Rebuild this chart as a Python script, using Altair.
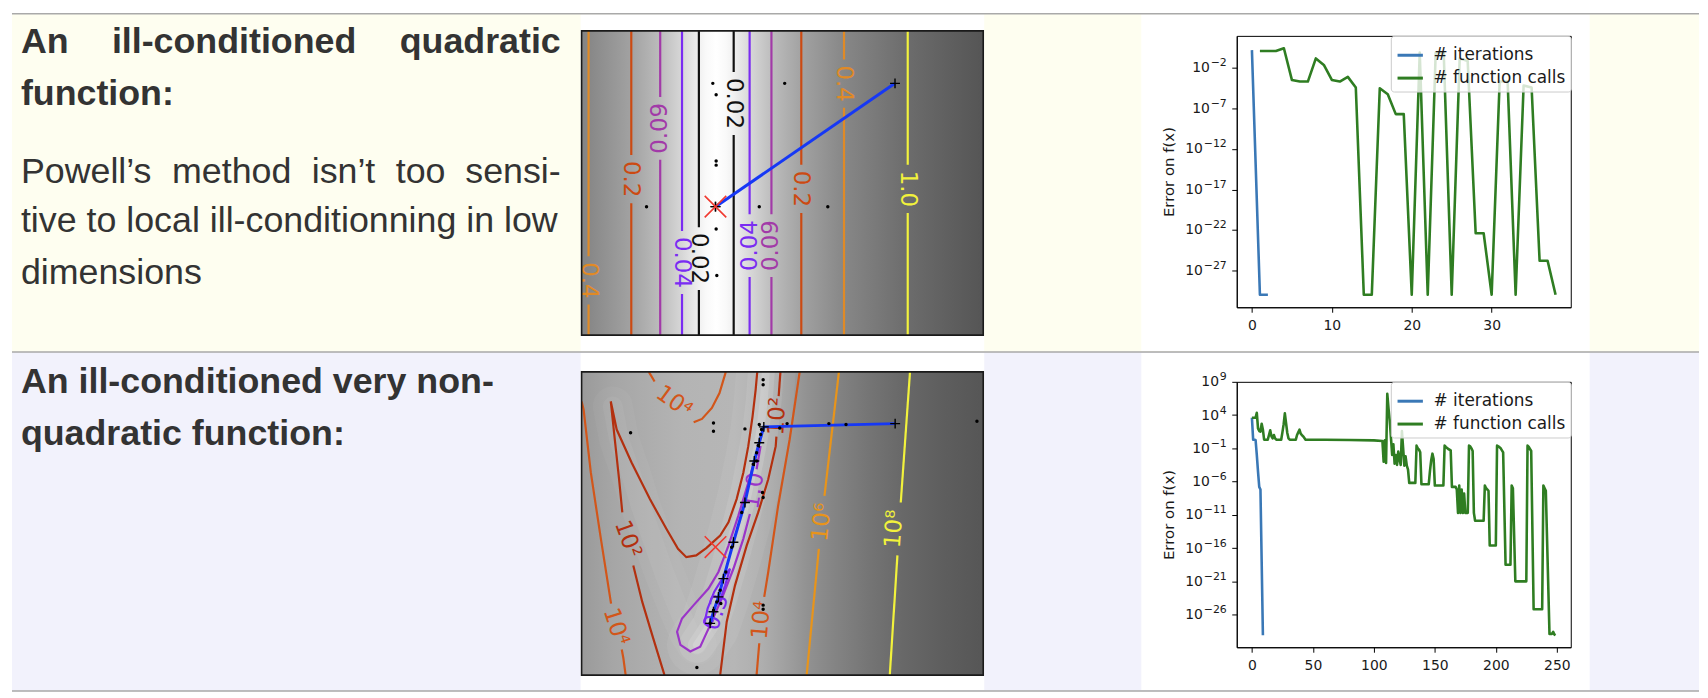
import altair as alt
import pandas as pd

TEXT_FONT = "Liberation Sans"
MPL_FONT = "DejaVu Sans"
INK = "#333333"
YELLOW = "#fefef0"
LAVENDER = "#f2f2fc"
RULE = "#a9a9a9"
BLUE = "#3a78b6"
GREEN = "#2f7d22"
PATH_BLUE = "#1638f5"
AXIS_INK = "#1a1a1a"

# ====================== DATA ======================
# --- table text ---
row1_title = ["An", "ill-conditioned", "quadratic", "function:"]
row1_body = ["Powell\u2019s", "method", "isn\u2019t", "too", "sensi-",
             "tive to local ill-conditionning in low", "dimensions"]
row2_title = ["An ill-conditioned very non-", "quadratic function:"]

# --- error curves: ill-conditioned quadratic ---
quad_iter_step = [0, 1, 2]
quad_iter_log10err = [0.2, -30.0, -30.0]
quad_calls_step = list(range(1, 39))
quad_calls_log10err = [0.09, 0.09, 0.09, 0.43, -3.48, -3.68, -3.68, -0.82, -1.63, -3.48,
                       -3.68, -3.1, -4.42, -30.0, -30.0, -4.5, -5.24, -7.7, -7.7, -30.0,
                       -0.1, -30.0, -0.1, -0.1, -30.0, -0.82, -1.14, -22.4, -22.4, -30.0,
                       -3.68, -3.68, -30.0, -4.17, -4.42, -25.8, -25.8, -30.0]

# --- error curves: ill-conditioned very non-quadratic ---
ros_iter_step = list(range(10))
ros_iter_log10err = [3.6, 0.3, 0.3, 0.25, -2.0, -4.5, -6.8, -7.2, -18.1, -29.1]
ros_calls_step = [0, 3, 4, 5, 6, 7, 8, 9, 10, 13, 14, 15, 16, 17, 18, 19, 20, 24, 25, 26,
                  27, 28, 29, 30, 31, 36, 37, 38, 39, 40, 41, 42, 44, 60, 80, 100, 107,
                  108, 109, 110, 111, 112, 113, 114, 115, 116, 117, 118, 119, 120, 121, 122, 123,
                  124, 125, 126, 127, 128, 129, 134, 135, 136, 137, 138, 139, 145, 146, 147, 148,
                  149, 150, 157, 158, 159, 161, 163, 164, 167, 168, 169, 170, 171, 172, 173, 174,
                  175, 177, 178, 179, 180, 181, 182, 183, 190, 191, 192, 194, 195, 200, 201, 202,
                  204, 206, 208, 212, 213, 214, 216, 225, 226, 227, 229, 231, 238, 239, 240, 241,
                  244, 246, 247, 248, 249]
ros_calls_log10err = [3.6, 3.6, 4.35, 2.0, 1.6, 1.5, 2.7, 1.8, 0.3, 0.3, 1.0, 1.7, 0.8, 0.5, 1.0, 0.5,
                      0.3, 0.3, 1.4, 2.6, 4.25, 2.8, 1.3, 0.5, 0.3, 0.3, 1.0, 1.4, 1.8, 1.2, 1.0, 0.8,
                      0.3, 0.3, 0.25, 0.2, 0.1,
                      -3.0, 0.2, -3.2, 7.2, 5.0, 3.2, 0.6, -2.0, -0.4, -3.3, -2.0, -3.5, -1.5, -2.6,
                      -3.5, 1.6, -1.0, -3.6, -2.2, -3.6, -4.2, -6.2, -6.2, -0.6, -1.0, -1.2, -1.6,
                      -6.4, -6.4, -4.4, -2.8, -1.8, -2.6, -6.6, -6.6, -0.6, -0.8, -1.1, -1.3, -6.8,
                      -6.8, -7.2, -10.7, -6.6, -10.7, -7.2, -10.7, -7.8, -10.7, -10.7, -0.6, -0.7,
                      -1.0, -1.4, -10.7, -11.9, -11.9, -6.6, -7.0, -7.4, -15.6, -15.6, -0.6, -0.7,
                      -1.0, -1.6, -18.5, -18.5, -6.6, -7.0, -21.0, -21.0, -0.6, -0.8, -1.4, -25.2,
                      -25.2, -6.6, -7.0, -7.4, -28.9, -28.9, -28.6, -29.0, -29.1]
assert len(ros_calls_step) == len(ros_calls_log10err)
assert len(quad_calls_step) == len(quad_calls_log10err)

# --- contour picture 1 (quadratic): vertical iso-lines ---
quad_level_x = [-0.948, -0.629, -0.413, -0.25, -0.124, 0.136, 0.255, 0.418, 0.641, 0.960, 1.436]
quad_level_text = ["0.4", "0.2", "0.09", "0.04", "0.02", "0.02", "0.04", "0.09", "0.2", "0.4", "1.0"]
quad_label_y = [-0.546, 0.204, 0.579, -0.413, -0.384, 0.763, -0.288, -0.288, 0.131, 0.910, 0.131]
quad_label_angle = [90, 90, 270, 90, 90, 90, 270, 270, 90, 90, 90]
quad_path_x = [1.341, 0.0, 0.0]
quad_path_y = [0.912, 0.0, 0.0]
quad_dots_x = [-0.02, 0.005, 0.517, 0.005, 0.005, -0.515, 0.327, 0.839, 0.005, 0.01]
quad_dots_y = [0.912, 0.827, 0.912, 0.337, 0.307, 0.0, 0.0, 0.0, -0.165, -0.509]
quad_min = (0.0, 0.0)

# --- contour picture 2 (very non-quadratic): traced iso-lines ---
ros_c1e8 = [[(1.453, 1.3), (1.384, 0.331)], [(1.359, -0.062), (1.302, -0.95)]]
ros_c1e6 = [[(0.922, 1.3), (0.814, 0.380)], [(0.772, -0.013), (0.681, -0.95)]]
ros_c1e4_right = [[(0.629, 1.3), (0.554, 0.798), (0.468, 0.307), (0.394, -0.185), (0.364, -0.370)],
                  [(0.327, -0.714), (0.307, -0.95)]]
ros_c1e4_left = [[(-1.0, 1.08), (-0.985, 1.020), (-0.931, 0.552), (-0.856, 0.061), (-0.78, -0.42)],
                 [(-0.70, -0.76), (-0.688, -0.825), (-0.671, -0.95)]]
ros_c1e4_top = [[(-0.498, 1.3), (-0.455, 1.229)],
                [(-0.163, 0.926), (-0.101, 0.951), (-0.027, 1.032), (0.030, 1.143), (0.077, 1.3)]]
ros_c1e2_right = [[(0.485, 1.3), (0.472, 1.12)],
                  [(0.455, 0.82), (0.450, 0.749), (0.394, 0.503), (0.319, 0.257), (0.233, 0.011),
                   (0.146, -0.284), (0.084, -0.554), (0.035, -0.95)]]
ros_c1e2_left = [[(-0.696, 0.257), (-0.720, 0.503), (-0.752, 0.798), (-0.782, 1.081), (-0.738, 0.872),
                  (-0.626, 0.626), (-0.490, 0.356), (-0.366, 0.134), (-0.280, -0.013), (-0.218, -0.075),
                  (-0.144, -0.062), (-0.069, -0.008), (0.035, 0.085), (0.097, 0.184), (0.158, 0.356),
                  (0.208, 0.552), (0.245, 0.749), (0.277, 0.970), (0.300, 1.167), (0.312, 1.3)],
                 [(-0.614, -0.136), (-0.547, -0.407), (-0.473, -0.652), (-0.381, -0.95)]]
ros_c1p0 = [[(0.307, 0.577), (0.337, 0.749), (0.302, 0.675), (0.245, 0.479), (0.171, 0.233),
             (0.097, 0.011), (0.022, -0.185), (-0.052, -0.308), (-0.163, -0.431), (-0.250, -0.530),
             (-0.287, -0.628), (-0.262, -0.726), (-0.188, -0.775), (-0.114, -0.739), (-0.040, -0.579),
             (0.047, -0.382), (0.134, -0.161), (0.208, 0.061), (0.257, 0.245)]]
ros_c0p3 = [[(-0.015, -0.542), (-0.052, -0.584), (-0.082, -0.559), (-0.059, -0.456), (-0.010, -0.333),
             (0.059, -0.222), (0.109, -0.161), (0.072, -0.284), (0.022, -0.431)]]
ros_label_text = ["10\u2078", "10\u2076", "10\u2074", "10\u00b2", "10\u2074", "10\u2074", "10\u00b2", "1.0", "0.3"]
ros_label_x = [1.334, 0.795, 0.344, 0.462, -0.742, -0.309, -0.655, 0.287, 0.005]
ros_label_y = [0.134, 0.184, -0.542, 0.970, -0.591, 1.078, 0.060, 0.417, -0.485]
ros_label_angle = [274, 276, 275, 273, 72, 36, 70, 279, 288]
ros_valley_left = [(-0.767, 1.044), (-0.720, 0.798), (-0.634, 0.552), (-0.559, 0.307), (-0.473, 0.061),
                   (-0.386, -0.185), (-0.287, -0.431), (-0.200, -0.628), (-0.139, -0.726)]
ros_valley_right = [(-0.139, -0.726), (-0.040, -0.579), (0.035, -0.357), (0.109, -0.111), (0.183, 0.159),
                    (0.245, 0.405), (0.295, 0.651), (0.332, 0.848), (0.361, 1.093), (0.376, 1.3)]
ros_path_x = [1.342, 0.361, 0.327, 0.290, 0.220, 0.134, 0.059, 0.022, -0.015, -0.040]
ros_path_y = [0.916, 0.892, 0.774, 0.639, 0.331, 0.036, -0.234, -0.370, -0.480, -0.566]
ros_dots_x = [0.356, 0.356, -0.015, -0.015, -0.634, 0.220, 0.327, 0.344, 0.337, 0.480, 0.535, 0.847,
              0.975, 1.953, 0.319, 0.307, 0.282, 0.307, 0.351, 0.356, 0.196, 0.121, 0.077, 0.035,
              0.010, 0.040, -0.015, -0.040, 0.356, 0.356, -0.139]
ros_dots_y = [1.241, 1.204, 0.921, 0.860, 0.848, 0.877, 0.909, 0.872, 0.835, 0.884, 0.916, 0.916,
              0.909, 0.934, 0.754, 0.700, 0.614, 0.639, 0.405, 0.368, 0.257, -0.001, -0.185, -0.320,
              -0.407, -0.419, -0.468, -0.566, -0.431, -0.461, -0.893]
ros_min = (0.0, 0.0)

# ====================== STYLE ======================
QUAD_COLORS = {"0.02": "#111111", "0.04": "#7a2cf2", "0.09": "#a23aa8", "0.2": "#cc4a12",
               "0.4": "#e08a26", "1.0": "#f2f23c"}
ROS_COLORS = {"1e8": "#f2f23c", "1e6": "#e8941a", "1e4": "#d2561a", "1e2": "#b3300f",
              "1.0": "#9b35c8", "0.3": "#7a2cf0"}
QUAD_BG = [(0.0, 0x84), (0.017, 0x87), (0.124, 0xa2), (0.196, 0xbc), (0.25, 0xd7), (0.292, 0xf0),
           (0.31, 0xf9), (0.335, 0xff), (0.36, 0xf9), (0.379, 0xf0), (0.418, 0xd8), (0.473, 0xbd),
           (0.547, 0xa2), (0.653, 0x87), (0.812, 0x6c), (1.0, 0x55)]
ROS_BG = [(0.0, 0x9a), (0.08, 0xa6), (0.25, 0xb4), (0.38, 0xb6), (0.45, 0xae), (0.5, 0xa2),
          (0.56, 0x92), (0.63, 0x84), (0.72, 0x74), (0.8, 0x68), (0.9, 0x5e), (1.0, 0x56)]


def gray(v):
    return "#%02x%02x%02x" % (v, v, v)


XS = alt.Scale(domain=[-1, 2], nice=False, zero=False)
YS = alt.Scale(domain=[-0.95, 1.3], nice=False, zero=False)


def cx(f):
    return alt.X(f, type="quantitative", scale=XS, axis=None)


def cy(f):
    return alt.Y(f, type="quantitative", scale=YS, axis=None)


def seg_frame(segs):
    rows = []
    for k, (color, pts) in enumerate(segs):
        for i, (x, y) in enumerate(pts):
            rows.append({"seg": k, "i": i, "x": x, "y": y, "color": color})
    return pd.DataFrame(rows)


def pts_frame(pts):
    return pd.DataFrame({"i": list(range(len(pts))), "x": [p[0] for p in pts], "y": [p[1] for p in pts]})


def contour_panel(stops, glows, segs_df, labels_df, path_df, dots_df, xmin, w, h):
    ext = pd.DataFrame({"x0": [-1.0], "x1": [2.0], "y0": [-0.95], "y1": [1.3]})
    grad = {"gradient": "linear", "x1": 0, "y1": 0, "x2": 1, "y2": 0,
            "stops": [{"offset": o, "color": gray(c)} for o, c in stops]}
    layers = [alt.Chart(ext).mark_rect(fill=grad, strokeWidth=0).encode(
        x=cx("x0"), x2="x1", y=cy("y0"), y2="y1")]
    for df, sw, op in glows:
        layers.append(alt.Chart(df).mark_line(color="white", strokeWidth=sw, opacity=op, strokeCap="round",
                                              strokeJoin="round", clip=True).encode(
            x=cx("x"), y=cy("y"), order="i:Q"))
    layers.append(alt.Chart(segs_df).mark_line(strokeWidth=2.2, clip=True).encode(
        x=cx("x"), y=cy("y"), detail="seg:N", order="i:Q", color=alt.Color("color:N", scale=None)))
    layers.append(alt.Chart(labels_df).mark_text(font=MPL_FONT, fontSize=23, align="center",
                                                 baseline="middle").encode(
        x=cx("x"), y=cy("y"), text="text:N", angle=alt.Angle("angle:Q", scale=None),
        color=alt.Color("color:N", scale=None)))
    layers.append(alt.Chart(path_df).mark_line(color=PATH_BLUE, strokeWidth=3, clip=True).encode(
        x=cx("x"), y=cy("y"), order="i:Q"))
    layers.append(alt.Chart(path_df).mark_point(shape="M-1,0L1,0M0,-1L0,1", size=100, filled=False,
                                                color="black", strokeWidth=1.4, opacity=1).encode(
        x=cx("x"), y=cy("y")))
    layers.append(alt.Chart(dots_df).mark_circle(size=12, color="black", opacity=1).encode(
        x=cx("x"), y=cy("y")))
    mn = pd.DataFrame({"x": [xmin[0]], "y": [xmin[1]]})
    layers.append(alt.Chart(mn).mark_point(shape="M-1,-1L1,1M-1,1L1,-1", size=470, filled=False,
                                           color="#f03a30", strokeWidth=1.6, opacity=1).encode(
        x=cx("x"), y=cy("y")))
    layers.append(alt.Chart(ext).mark_rect(filled=False, stroke="#1a1a1a", strokeWidth=1.6).encode(
        x=cx("x0"), x2="x1", y=cy("y0"), y2="y1"))
    return alt.layer(*layers).properties(width=w, height=h)


def text_len_px(t, fs=23):
    w = 0.0
    for ch in t:
        w += 0.318 if ch == "." else 0.636
    return w * fs


q_segs = []
for x, t, ly in zip(quad_level_x, quad_level_text, quad_label_y):
    hg = (text_len_px(t) / 2 + 6) / 136.0
    c = QUAD_COLORS[t]
    q_segs.append((c, [(x, 1.3), (x, ly + hg)]))
    q_segs.append((c, [(x, ly - hg), (x, -0.95)]))
q_labels = pd.DataFrame({"x": quad_level_x, "y": quad_label_y, "text": quad_level_text,
                         "angle": quad_label_angle, "color": [QUAD_COLORS[t] for t in quad_level_text]})
q_path = pd.DataFrame({"i": [0, 1, 2], "x": quad_path_x, "y": quad_path_y})
q_dots = pd.DataFrame({"x": quad_dots_x, "y": quad_dots_y})
contour1 = contour_panel(QUAD_BG, [], seg_frame(q_segs), q_labels, q_path, q_dots, quad_min, 404, 306)

r_segs = []
for key, segs in [("1e8", ros_c1e8), ("1e6", ros_c1e6), ("1e4", ros_c1e4_right), ("1e4", ros_c1e4_left),
                  ("1e4", ros_c1e4_top), ("1e2", ros_c1e2_right), ("1e2", ros_c1e2_left),
                  ("1.0", ros_c1p0), ("0.3", ros_c0p3)]:
    for s in segs:
        r_segs.append((ROS_COLORS[key], s))
r_label_keys = ["1e8", "1e6", "1e4", "1e2", "1e4", "1e4", "1e2", "1.0", "0.3"]
r_labels = pd.DataFrame({"x": ros_label_x, "y": ros_label_y, "text": ros_label_text,
                         "angle": ros_label_angle, "color": [ROS_COLORS[k] for k in r_label_keys]})
r_path = pd.DataFrame({"i": list(range(len(ros_path_x))), "x": ros_path_x, "y": ros_path_y})
r_dots = pd.DataFrame({"x": ros_dots_x, "y": ros_dots_y})
vl = pts_frame(ros_valley_left)
vr = pts_frame(ros_valley_right)
glows = [(vl, 40, 0.04), (vl, 20, 0.05),
         (vr, 60, 0.06), (vr, 36, 0.09), (vr, 18, 0.13), (vr, 8, 0.15)]
contour2 = contour_panel(ROS_BG, glows, seg_frame(r_segs), r_labels, r_path, r_dots, ros_min, 404, 305)


# ---- error charts ----
SUP_FS = 11
BASE_FS = 14
LABEL_RIGHT = -10


def exp_text(v):
    return ("\u2212" if v < 0 else "") + str(abs(v))


def exp_width(v):
    return (0.838 * SUP_FS if v < 0 else 0.0) + 0.636 * SUP_FS * len(str(abs(v)))


def error_chart(it_x, it_e, fc_x, fc_e, xdom, ydom, xticks, yticks, w, h):
    df = pd.DataFrame({
        "step": list(it_x) + list(fc_x),
        "err": [10.0 ** v for v in it_e] + [10.0 ** v for v in fc_e],
        "series": ["# iterations"] * len(it_x) + ["# function calls"] * len(fc_x),
    })
    common = dict(domainColor="#000000", domainWidth=1, tickColor="#000000", tickWidth=1, tickSize=5,
                  labelFont=MPL_FONT, labelFontSize=BASE_FS, labelColor=AXIS_INK, grid=False,
                  labelFlush=False)
    yscale = alt.Scale(type="log", domain=[10.0 ** ydom[0], 10.0 ** ydom[1]], nice=False)
    lines = alt.Chart(df).mark_line(strokeWidth=2.6, clip=True, strokeJoin="round").encode(
        x=alt.X("step:Q", scale=alt.Scale(domain=xdom, nice=False, zero=False),
                axis=alt.Axis(values=xticks, labelPadding=6, title=None, **common)),
        y=alt.Y("err:Q", scale=yscale,
                axis=alt.Axis(values=[10.0 ** v for v in yticks], labels=False,
                              title="Error on f(x)", titleFont=MPL_FONT, titleFontSize=15,
                              titleFontWeight="normal", titleColor=AXIS_INK, titlePadding=55, **common)),
        color=alt.Color("series:N",
                        scale=alt.Scale(domain=["# iterations", "# function calls"], range=[BLUE, GREEN]),
                        legend=alt.Legend(orient="top-right", offset=0, title=None,
                                          fillColor="rgba(255,255,255,0.8)", strokeColor="#cccccc",
                                          cornerRadius=3, padding=5, labelFont=MPL_FONT, labelFontSize=17,
                                          labelColor=AXIS_INK, symbolType="stroke", symbolStrokeWidth=3,
                                          symbolSize=650, rowPadding=0, labelOffset=9, labelLimit=400)),
    )
    # y tick labels "10" with a superscript exponent, placed through the y scale
    ticks = pd.DataFrame({"err": [10.0 ** v for v in yticks],
                          "exp": [exp_text(v) for v in yticks],
                          "w": [round(exp_width(v), 1) for v in yticks]})
    layers = [lines,
              alt.Chart(ticks).mark_text(font=MPL_FONT, fontSize=SUP_FS, align="right", baseline="middle",
                                         dy=-4.5, color=AXIS_INK).encode(
                  x=alt.value(LABEL_RIGHT), y=alt.Y("err:Q", scale=yscale), text="exp:N")]
    for wv in sorted(set(ticks["w"])):
        sub = ticks[ticks["w"] == wv]
        layers.append(alt.Chart(sub).mark_text(font=MPL_FONT, fontSize=BASE_FS, align="right",
                                               baseline="middle", dy=0.5, color=AXIS_INK).encode(
            x=alt.value(LABEL_RIGHT - wv - 0.8), y=alt.Y("err:Q", scale=yscale), text=alt.value("10")))
    return alt.layer(*layers).properties(width=w, height=h,
                                         view=alt.ViewBackground(fill="white", stroke="#000000", strokeWidth=1))


err1 = error_chart(quad_iter_step, quad_iter_log10err, quad_calls_step, quad_calls_log10err,
                   [-1.9, 39.9], [-31.54, 1.96], [0, 10, 20, 30], [-27, -22, -17, -12, -7, -2], 336, 273)
err2 = error_chart(ros_iter_step, ros_iter_log10err, ros_calls_step, ros_calls_log10err,
                   [-12.45, 261.45], [-30.91, 9.0], [0, 50, 100, 150, 200, 250],
                   [-26, -21, -16, -11, -6, -1, 4, 9], 336, 267)

# ---- table decoration + text (pixel layout, origin = top-left of the table) ----
RIGHT = 1697
bands = pd.DataFrame({"x": [0, 0], "x2": [RIGHT, RIGHT], "y": [0, 341], "y2": [341, 682],
                      "fill": [YELLOW, LAVENDER]})
cells = pd.DataFrame({"x": [572, 1136, 572, 1136], "x2": [978, 1587, 978, 1587],
                      "y": [1.2, 1.2, 342, 342], "y2": [340, 340, 681, 681]})
rules = pd.DataFrame({"y": [0.75, 341, 682], "x": [0, 0, 0], "x2": [RIGHT, RIGHT, RIGHT]})
bold_left = pd.DataFrame({"text": [row1_title[0], row1_title[1], row1_title[3], row2_title[0], row2_title[1]],
                          "x": [9, 100.5, 9, 9, 9], "y": [40.7, 40.7, 92.3, 382.3, 435.0]})
bold_right = pd.DataFrame({"text": [row1_title[2]], "x": [552], "y": [40.7]})
reg_left = pd.DataFrame({"text": [row1_body[0], row1_body[1], row1_body[2], row1_body[3], row1_body[5],
                                  row1_body[6]],
                         "x": [9, 161, 301.5, 386, 9, 9], "y": [170.7, 170.7, 170.7, 170.7, 220.7, 272.3]})
reg_right = pd.DataFrame({"text": [row1_body[4]], "x": [552], "y": [170.7]})


def px(f):
    return alt.X(f, type="quantitative", scale=None)


def py(f):
    return alt.Y(f, type="quantitative", scale=None)


deco = alt.layer(
    alt.Chart(bands).mark_rect(strokeWidth=0).encode(x=px("x"), x2="x2", y=py("y"), y2="y2",
                                                     fill=alt.Fill("fill:N", scale=None)),
    alt.Chart(cells).mark_rect(fill="white", strokeWidth=0).encode(x=px("x"), x2="x2", y=py("y"), y2="y2"),
    alt.Chart(rules).mark_rule(color=RULE, strokeWidth=1.5).encode(x=px("x"), x2="x2", y=py("y")),
    alt.Chart(bold_left).mark_text(font=TEXT_FONT, fontSize=36, fontWeight="bold", color=INK, align="left",
                                   baseline="alphabetic").encode(x=px("x"), y=py("y"), text="text:N"),
    alt.Chart(bold_right).mark_text(font=TEXT_FONT, fontSize=36, fontWeight="bold", color=INK, align="right",
                                    baseline="alphabetic").encode(x=px("x"), y=py("y"), text="text:N"),
    alt.Chart(reg_left).mark_text(font=TEXT_FONT, fontSize=36, color=INK, align="left",
                                  baseline="alphabetic").encode(x=px("x"), y=py("y"), text="text:N"),
    alt.Chart(reg_right).mark_text(font=TEXT_FONT, fontSize=36, color=INK, align="right",
                                   baseline="alphabetic").encode(x=px("x"), y=py("y"), text="text:N"),
).properties(width=573, height=682)


def spacer(w=1, h=1):
    return alt.Chart(pd.DataFrame({"v": [0]})).mark_rect(opacity=0).encode(
        x=alt.value(0), x2=alt.value(1), y=alt.value(0), y2=alt.value(1)).properties(width=w, height=h)


def indep(c):
    return c.resolve_scale(color="independent").resolve_legend(color="independent")


colB = alt.vconcat(spacer(), alt.vconcat(contour1, contour2, spacing=37, bounds="flush"),
                   spacing=17, bounds="flush")
colC = indep(alt.vconcat(spacer(), indep(alt.vconcat(err1, err2, spacing=75, bounds="flush")),
                         spacing=22, bounds="flush"))

# nested concats count as zero width in a flush layout -> a blank gap column places column C
chart = indep(alt.hconcat(deco, colB, spacer(659, 1), colC, spacing=0, bounds="flush")).properties(
    padding={"left": 3, "top": 3, "right": 0, "bottom": 0},
    background="white",
).configure_view(strokeWidth=0)

chart.save("out.html", embed_options={"renderer": "svg", "actions": False})
